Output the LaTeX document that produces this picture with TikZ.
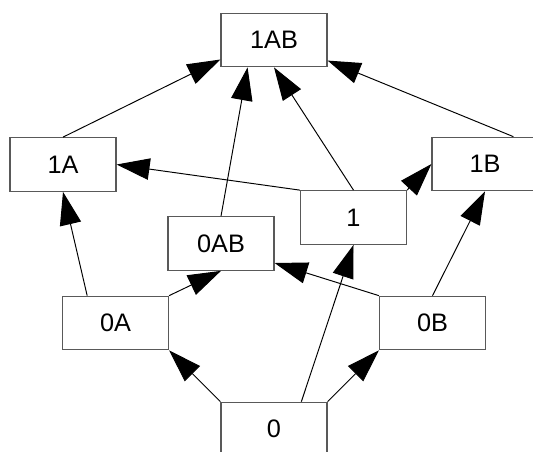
\documentclass[tikz,border=0pt]{standalone}
\usepackage{fontspec}
\setmainfont{Liberation Sans}
\usetikzlibrary{shapes}
\usetikzlibrary{arrows.meta}

\begin{document}
\begin{tikzpicture}[x=0.02cm,y=-0.02cm,
    box/.style={draw=black!65,line width=0.7pt,fill=white,minimum width=2.12cm,
      minimum height=1.07cm,inner sep=0pt,font=\fontsize{14.4}{17}\selectfont},
    edge/.style={line width=0.55pt,-{Triangle[length=0.66cm,width=0.43cm]}}]
    \useasboundingbox (0,0) rectangle (533,452);
    \clip (0,0) rectangle (533,452);

    \node[box] (n1AB) at (274,40) {1AB};
    \node[box] (n1A) at (63,164.5) {1A};
    \node[box] (n1B) at (485,164) {1B};
    \node[box] (n1) at (353.5,217.5) {1};
    \node[box] (n0AB) at (221,243.5) {0AB};
    \node[box] (n0A) at (115.5,323) {0A};
    \node[box] (n0B) at (432.5,323) {0B};
    \node[box] (n0) at (274,429) {0};

    % upper level
    \draw[edge] (n1A.north) -- (n1AB.200);
    \draw[edge] (n0AB.north) -- (n1AB.226);
    \draw[edge] (n1.north) -- (n1AB.south);
    \draw[edge] (n1B.44) -- (n1AB.-21);
    \draw[edge] (n1.north west) -- (n1A.east);
    \draw[edge] (n1.north east) -- (n1B.west);
    \draw[edge] (n0A.136) -- (n1A.south);
    \draw[edge] (n0B.north) -- (n1B.south);
    \draw[edge] (n0A.north east) -- (n0AB.south);
    \draw[edge] (n0B.north west) -- (n0AB.-20);

    % from 0
    \draw[edge] (n0.north west) -- (n0A.south east);
    \draw[edge] (n0.north east) -- (n0B.south west);
    \draw[edge] (n0.45) -- (n1.south);
  \end{tikzpicture}
\end{document}
